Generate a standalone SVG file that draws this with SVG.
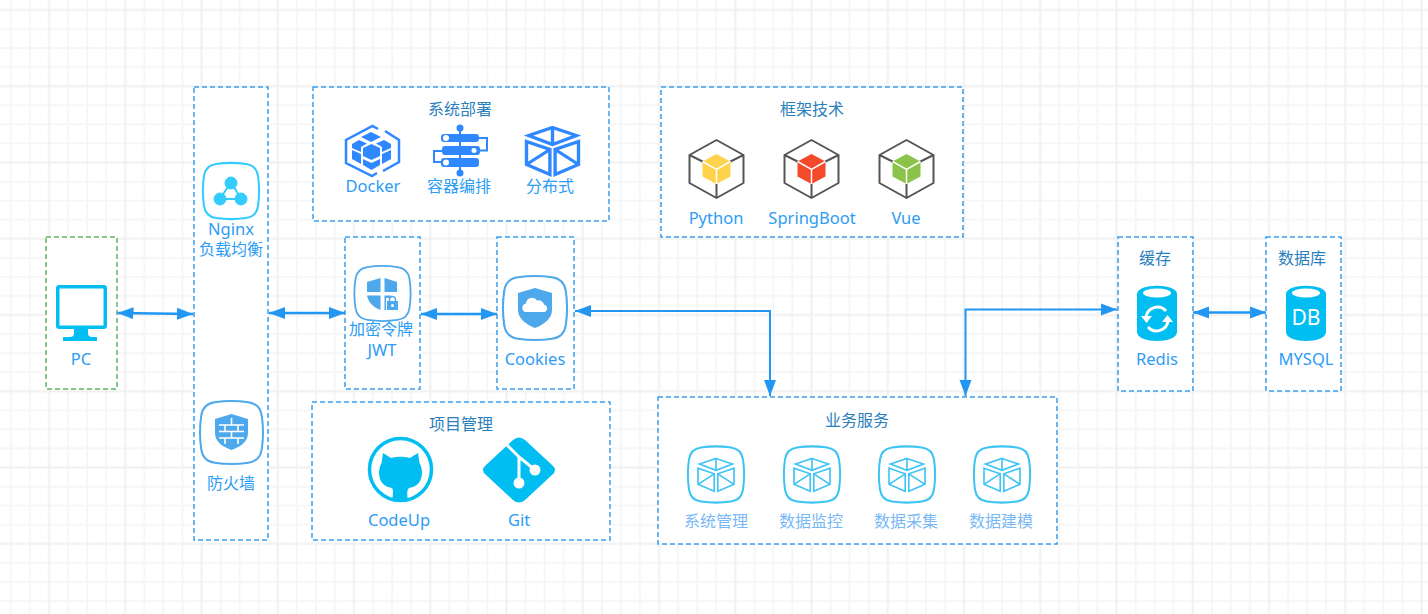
<svg xmlns="http://www.w3.org/2000/svg" width="1428" height="614" viewBox="0 0 1428 614">
<style>
text{font-family:"Noto Sans","Noto Sans CJK SC",sans-serif;font-size:16px;text-anchor:middle;fill:#2d9cf5}
.e{font-size:16.500px}
.t{fill:#2a80bd}
.l{fill:#78b8f5}
.b{fill:#fff;stroke:#3a9eee;stroke-width:1.500;stroke-dasharray:5 3}
.g{fill:#fff;stroke:#62b46a;stroke-width:1.500;stroke-dasharray:5 3}
.c{fill:none;stroke:#2196f3;stroke-width:2.500;marker-start:url(#ah);marker-end:url(#ah)}
.d{stroke-width:2}
.s{fill:#fff;stroke-width:2}
.w{fill:#4ea8ec}
.cy{fill:#00bef2}
.bl{fill:#2f88ff}
.hx{fill:none;stroke:#555;stroke-width:2;stroke-linejoin:round}
</style>
<defs>
<pattern id="grid" width="76.250" height="76.250" patternUnits="userSpaceOnUse" patternTransform="translate(47.500 8.500)">
<path d="M20.560 0V76.250M39.620 0V76.250M58.690 0V76.250M0 20.560H76.250M0 39.620H76.250M0 58.690H76.250" stroke="#f6f6f6" stroke-width="2" fill="none"/>
<path d="M1.500 0V76.250M0 1.500H76.250" stroke="#f0f0f0" stroke-width="2" fill="none"/>
</pattern>
<marker id="ah" markerUnits="userSpaceOnUse" markerWidth="17" markerHeight="13" refX="16" refY="6.500" orient="auto-start-reverse">
<path d="M0 0.500L16 6.500L0 12.500Z" fill="#2196f3"/>
</marker>
<path id="sq" d="M-15 -27C-5 -28.500 5 -28.500 15 -27C22 -26 26 -22 27 -15C28.500 -5 28.500 5 27 15C26 22 22 26 15 27C5 28.500 -5 28.500 -15 27C-22 26 -26 22 -27 15C-28.500 5 -28.500 -5 -27 -15C-26 -22 -22 -26 -15 -27Z"/>
<g id="cube" fill="none" stroke-linejoin="miter">
<path d="M0 -46L46 -30L0 -12L-46 -30ZM0 -46V-12"/>
<path d="M-50 -18L-5 -2V48L-50 28ZM-50 28L-5 -2"/>
<path d="M50 -18L5 -2V48L50 28ZM50 28L5 -2"/>
</g>
<g id="hex">
<path class="hx" d="M0 -29L27 -14V14L0 29L-27 14V-14ZM-27 -14L-13 -7M27 -14L13 -7M0 29V15"/>
</g>
<path id="mini" d="M0 -15L14 -7.500V7.500L0 15L-14 7.500V-7.500Z"/>
<path id="miniy" d="M-14 -7.500L0 0.500L14 -7.500M0 0.500V15" fill="none" stroke="#fff" stroke-width="1.500"/>
</defs>
<rect id="background" width="1428" height="614" fill="#fff"/>
<rect id="gridlines" width="1428" height="614" fill="url(#grid)"/>

<g id="node-pc">
<rect class="g" x="46" y="237" width="71" height="152"/>
<rect x="57.750" y="286.750" width="47.500" height="40.500" rx="1.500" fill="#fff" stroke="#00bef2" stroke-width="3.500"/>
<path class="cy" d="M74 329H88V333Q88 337 92 337H97V341H63V337H70Q74 337 74 333Z"/>
<text class="e" x="81" y="365">PC</text>
</g>

<g id="node-gateway">
<rect class="b" x="194" y="87" width="74" height="453"/>
<use href="#sq" x="231" y="191" class="s" stroke="#33ccff"/>
<g fill="#33ccff" stroke="#33ccff">
<path d="M231 182L220 199H241Z" fill="none" stroke-width="2"/>
<circle cx="231" cy="183" r="6"/><circle cx="220" cy="199" r="6"/><circle cx="241" cy="199" r="6"/>
</g>
<text class="e" x="231" y="235">Nginx</text>
<text x="231" y="255">负载均衡</text>
<use href="#sq" transform="translate(231.500 432.500) scale(1.120)" fill="#fff" stroke="#4ea8ec" stroke-width="1.800"/>
<path class="w" d="M231.500 414L248 419V433C248 442 240 447 231.500 450C223 447 215 442 215 433V419Z"/>
<path d="M219 425H244M219 431.500H244M219 438H244M231.500 418V425M225 425V431.500M238 425V431.500M231.500 431.500V438M225 438V444M238 438V444" stroke="#fff" stroke-width="1.600" fill="none"/>
<text x="231" y="489">防火墙</text>
</g>

<g id="node-deploy">
<rect class="b" x="313" y="87" width="296" height="134"/>
<text class="t" x="460" y="115">系统部署</text>
<path d="M378 129L372.500 126L346 140V163L372 176L377 173M385 131L399 140V162L383 171" fill="none" stroke="#2f88ff" stroke-width="2.500"/>
<g class="bl">
<path d="M371 132L381 137L371 142L361 137Z"/>
<path d="M371.500 144L380 148V156L371.500 160L363 156V148Z"/>
<path d="M352 144L359 140L367 143.500L361 147V152L352 148Z"/>
<path d="M391 144L384 140L376 143.500L382 147V152L391 148Z"/>
<path d="M352 150L361 154V164L352 159Z"/>
<path d="M391 150L382 154V164L391 159Z"/>
<path d="M363 159L371.500 163L380 159V165L371.500 170L363 165Z"/>
</g>
<text class="e" x="373" y="192">Docker</text>
<path d="M460 128V173" stroke="#2f88ff" stroke-width="2"/>
<circle class="bl" cx="460" cy="128" r="3.500"/><circle class="bl" cx="460" cy="173" r="3.500"/>
<path d="M479 138H487V150.500H479M442 151H434V162H442" fill="none" stroke="#2f88ff" stroke-width="2"/>
<rect class="bl" x="441" y="134" width="38" height="8" rx="3"/>
<rect class="bl" x="442" y="146" width="38" height="9" rx="3"/>
<rect class="bl" x="441" y="158" width="38" height="9" rx="3"/>
<circle cx="446" cy="138" r="3" fill="#fff"/><circle cx="474" cy="150.500" r="2.500" fill="#fff"/><circle cx="446" cy="162.500" r="3" fill="#fff"/>
<text x="459" y="192">容器编排</text>
<use href="#cube" transform="translate(552.500 150.500) scale(0.520 0.500)" stroke="#2f88ff" stroke-width="6.500"/>
<text x="550" y="192">分布式</text>
</g>

<g id="node-framework">
<rect class="b" x="661" y="87" width="302" height="150"/>
<text class="t" x="812" y="115">框架技术</text>
<g transform="translate(716.500 169)"><use href="#hex"/><use href="#mini" fill="#ffd24d"/><use href="#miniy"/></g>
<g transform="translate(811.500 169)"><use href="#hex"/><use href="#mini" fill="#f4492a"/><use href="#miniy"/></g>
<g transform="translate(906.500 169)"><use href="#hex"/><use href="#mini" fill="#8bc34a"/><use href="#miniy"/></g>
<text class="e" x="716" y="224">Python</text>
<text class="e" x="812" y="224">SpringBoot</text>
<text class="e" x="906" y="224">Vue</text>
</g>

<g id="node-jwt">
<rect class="b" x="345" y="237" width="75" height="152"/>
<use href="#sq" transform="translate(382.500 293.500) scale(1 0.980)" fill="#fff" stroke="#4ea8ec" stroke-width="1.800"/>
<path class="w" d="M380.500 278V292H367V282ZM384.500 278L397 282V292H384.500ZM367 295.500H380.500V310C373 307 368 302 367 295.500ZM384.500 295.500H391V298H386V310L384.500 310.500Z"/>
<rect x="387" y="301" width="11" height="9" fill="#4ea8ec"/>
<path d="M389.500 301V299.500A3 3 0 0 1 395.500 299.500V301" fill="none" stroke="#4ea8ec" stroke-width="1.500"/>
<circle cx="392.500" cy="305.500" r="1.500" fill="#fff"/>
<text x="381" y="335">加密令牌</text>
<text class="e" x="382" y="356">JWT</text>
</g>

<g id="node-cookies">
<rect class="b" x="497" y="237" width="77" height="152"/>
<use href="#sq" transform="translate(535 308) scale(1.140)" fill="#fff" stroke="#4ea8ec" stroke-width="1.800"/>
<path class="w" d="M535 288L552 293V310C552 319 543 325 535 328C527 325 518 319 518 310V293Z"/>
<path d="M525 312A4.500 4.500 0 0 1 526 303.500A6 6 0 0 1 537 300.500A5.500 5.500 0 0 1 544 304.500A4 4 0 0 1 545 312Z" fill="#fff"/>
<text class="e" x="535" y="365">Cookies</text>
</g>

<g id="node-project">
<rect class="b" x="312" y="402" width="298" height="138"/>
<text class="t" x="461" y="430">项目管理</text>
<circle cx="400.500" cy="469.500" r="31" fill="#fff" stroke="#00bef2" stroke-width="3.500"/>
<path class="cy" d="M383 453L391 458Q400 455.500 410 458L418 453L419.500 463Q422 467 422 472Q422 486 409 488Q406 490 408 500Q400 503 392 500Q394 490 392 488Q379 486 379 472Q379 467 381.500 463Z"/>
<text class="e" x="399" y="526">CodeUp</text>
<path class="cy" d="M513 440Q519 435 525 440L552 465Q558 470 552 475L525 500Q519 505 513 500L486 475Q480 470 486 465Z"/>
<path d="M507 445L519 457L535 470M519 457V483" fill="none" stroke="#fff" stroke-width="3"/>
<circle cx="519" cy="483" r="5.500" fill="#fff"/><circle cx="535" cy="470" r="5.500" fill="#fff"/>
<text class="e" x="519" y="526">Git</text>
</g>

<g id="node-business">
<rect class="b" x="658" y="397" width="399" height="147"/>
<text class="t" x="857" y="426">业务服务</text>
<g transform="translate(716 474.500)"><use href="#sq" class="s" stroke="#3cc4f5"/><use href="#cube" transform="scale(0.360 0.350)" stroke="#3cc4f5" stroke-width="4.500"/></g>
<g transform="translate(812 474.500)"><use href="#sq" class="s" stroke="#3cc4f5"/><use href="#cube" transform="scale(0.360 0.350)" stroke="#3cc4f5" stroke-width="4.500"/></g>
<g transform="translate(907 474.500)"><use href="#sq" class="s" stroke="#3cc4f5"/><use href="#cube" transform="scale(0.360 0.350)" stroke="#3cc4f5" stroke-width="4.500"/></g>
<g transform="translate(1002 474.500)"><use href="#sq" class="s" stroke="#3cc4f5"/><use href="#cube" transform="scale(0.360 0.350)" stroke="#3cc4f5" stroke-width="4.500"/></g>
<text class="l" x="716" y="527">系统管理</text>
<text class="l" x="811" y="527">数据监控</text>
<text class="l" x="906" y="527">数据采集</text>
<text class="l" x="1001" y="527">数据建模</text>
</g>

<g id="node-redis">
<rect class="b" x="1118" y="237" width="75" height="154"/>
<text class="t" x="1155" y="264">缓存</text>
<path class="cy" d="M1137 294C1137 283 1177 283 1177 294V332C1177 344 1137 344 1137 332Z"/>
<ellipse cx="1157" cy="293" rx="14" ry="4.500" fill="#fff"/>
<path d="M1146 317A11.500 11.500 0 0 1 1166 311M1168 321A11.500 11.500 0 0 1 1148 327" fill="none" stroke="#fff" stroke-width="3"/>
<path d="M1141 316H1152L1146.500 323ZM1162 322H1173L1167.500 315Z" fill="#fff"/>
<text class="e" x="1157" y="365">Redis</text>
</g>

<g id="node-mysql">
<rect class="b" x="1266" y="237" width="75" height="154"/>
<text class="t" x="1302" y="264">数据库</text>
<path class="cy" d="M1286 294C1286 283 1326 283 1326 294V332C1326 344 1286 344 1286 332Z"/>
<ellipse cx="1306" cy="293" rx="14" ry="4.500" fill="#fff"/>
<text x="1306" y="325" style="fill:#fff;font-size:21px">DB</text>
<text class="e" x="1306" y="365">MYSQL</text>
</g>

<g id="connectors">
<path class="c" d="M117.500 313L193 314"/>
<path class="c" d="M269 313H345"/>
<path class="c" d="M421 314H497"/>
<path class="c d" d="M575 311H770V396"/>
<path class="c d" d="M965.500 396V309.500H1117"/>
<path class="c" d="M1193 312.500H1266"/>
</g>
</svg>
